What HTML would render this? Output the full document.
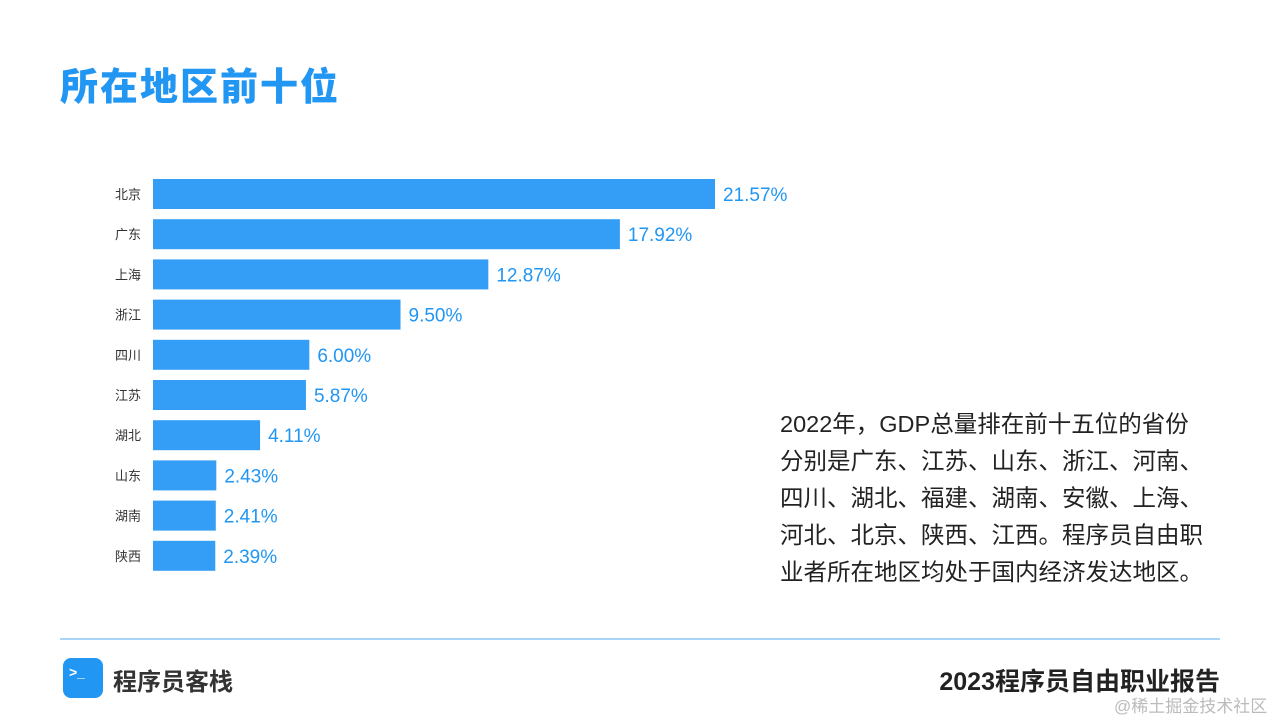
<!DOCTYPE html>
<html><head><meta charset="utf-8"><style>
body{margin:0;width:1280px;height:720px;background:#fff;position:relative;overflow:hidden;font-family:"Liberation Sans","Noto Sans CJK SC",sans-serif}
.abs{position:absolute}
</style></head><body>
<div class="abs" style="left:60px;top:56px;font-size:38px;font-weight:900;color:#2196f3;letter-spacing:2px">所在地区前十位</div>
<svg class="abs" style="left:0;top:0" width="1280" height="620" id="chart"></svg>
<div class="abs" style="left:780px;top:406px;width:480px;font-size:23.5px;line-height:37px;color:#222;white-space:nowrap">2022年，GDP总量排在前十五位的省份<br>分别是广东、江苏、山东、浙江、河南、<br>四川、湖北、福建、湖南、安徽、上海、<br>河北、北京、陕西、江西。程序员自由职<br>业者所在地区均处于国内经济发达地区。</div>
<div class="abs" style="left:60px;top:638px;width:1160px;height:2px;background:#a8d4f5"></div>
<div class="abs" style="left:63px;top:658px;width:40px;height:40px;border-radius:8px;background:#2196f3;color:#fff;font-size:14px;font-weight:bold;line-height:28px;text-indent:6px">&gt;_</div>
<div class="abs" style="left:113px;top:662px;font-size:24px;font-weight:bold;color:#333">程序员客栈</div>
<div class="abs" style="right:60px;top:662px;font-size:25px;font-weight:bold;color:#222">2023程序员自由职业报告</div>
<div class="abs" style="left:1114px;top:692px;font-size:17px;color:#bbb">@稀土掘金技术社区</div>
<script>
const categories=["北京","广东","上海","浙江","四川","江苏","湖北","山东","湖南","陕西"];
const values=[21.57,17.92,12.87,9.50,6.00,5.87,4.11,2.43,2.41,2.39];
const svg=document.getElementById('chart');
const NS='http://www.w3.org/2000/svg';
const x0=153,scale=562/21.57,y0=179,step=40.2,h=30;
const xPos=v=>x0+v*scale;
const yPos=i=>y0+i*step;
categories.forEach((c,i)=>{
  const r=document.createElementNS(NS,'rect');
  r.setAttribute('x',x0);r.setAttribute('y',yPos(i));
  r.setAttribute('width',xPos(values[i])-x0);r.setAttribute('height',h);
  r.setAttribute('fill','#349ef6');
  
  
  svg.appendChild(r);
  const l=document.createElementNS(NS,'text');
  l.setAttribute('x',141);l.setAttribute('y',yPos(i)+h/2+5);
  l.setAttribute('text-anchor','end');l.setAttribute('font-size','13');l.setAttribute('fill','#333');
  l.textContent=c;
  
  
  svg.appendChild(l);
  const v=document.createElementNS(NS,'text');
  v.setAttribute('x',xPos(values[i])+8);v.setAttribute('y',yPos(i)+h/2+7);
  v.setAttribute('font-size','19');v.setAttribute('fill','#2196f3');
  v.textContent=values[i].toFixed(2)+'%';
  
  
  svg.appendChild(v);
});
</script>
</body></html>
